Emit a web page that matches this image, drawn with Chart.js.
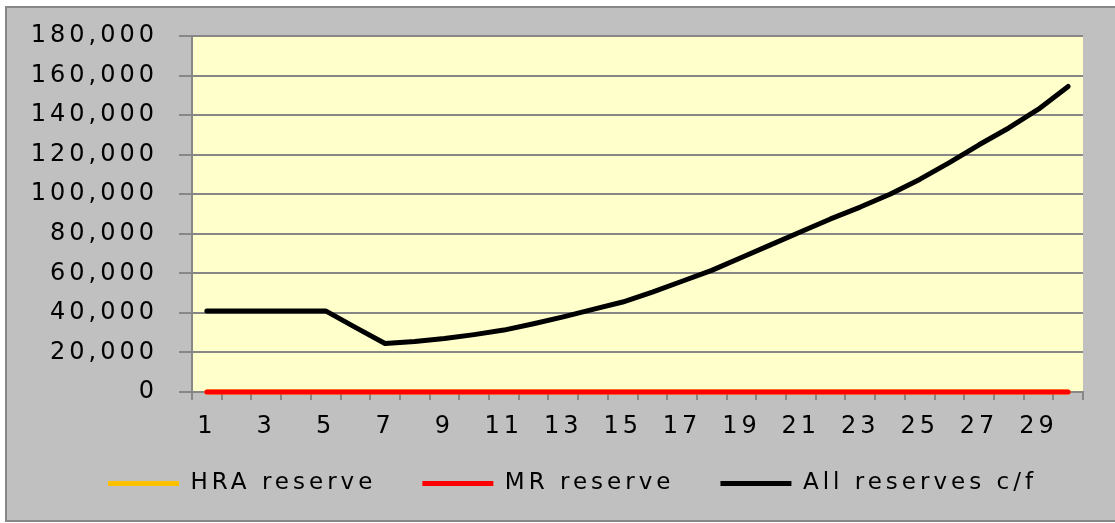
<!DOCTYPE html>
<html>
<head>
<meta charset="utf-8">
<script src="https://cdn.jsdelivr.net/npm/chart.js@4.4.1/dist/chart.umd.min.js"></script>
<style>
  html, body { margin: 0; padding: 0; background: #fff; overflow: hidden; }
  #frame { position: absolute; left: 5px; top: 6px; width: 1120px; height: 512px; border: 2px solid #878787; background: #c0c0c0; }
  #box { position: absolute; left: 0; top: 0; width: 1108px; height: 512px; }
</style>
</head>
<body>
<div id="frame"><div id="box"><canvas id="chart"></canvas></div></div>
<script>
// years 1..30 along the bottom
const years = ['1', '2', '3', '4', '5', '6', '7', '8', '9', '10',
  '11', '12', '13', '14', '15', '16', '17', '18', '19', '20',
  '21', '22', '23', '24', '25', '26', '27', '28', '29', '30'];

const hraReserve = [0, 0, 0, 0, 0, 0, 0, 0, 0, 0, 0, 0, 0, 0, 0, 0, 0, 0, 0, 0, 0, 0, 0, 0, 0, 0, 0, 0, 0, 0];
const mrReserve = [0, 0, 0, 0, 0, 0, 0, 0, 0, 0, 0, 0, 0, 0, 0, 0, 0, 0, 0, 0, 0, 0, 0, 0, 0, 0, 0, 0, 0, 0];
const allReserves = [41000, 41000, 41000, 41000, 41000, 32700, 24500, 25500, 27000, 29000,
  31300, 34500, 38000, 41800, 45500, 50500, 56000, 61500, 68000, 74500,
  81000, 87500, 93500, 100000, 107500, 116000, 125000, 133500, 143000, 154500];

const yMin = 0;
const yMax = 180000;
const yStep = 20000;

const tickFont = { family: 'DejaVu Sans', size: 24 };
const legendFont = { family: 'DejaVu Sans', size: 23 };
const gridGrey = '#878787';

// pale yellow plot area
const plotBg = {
  id: 'plotBg',
  beforeDraw(chart) {
    const { ctx, chartArea: a } = chart;
    ctx.save();
    ctx.fillStyle = '#ffffcc';
    ctx.fillRect(a.left, a.top, a.right - a.left, a.bottom - a.top);
    ctx.restore();
  }
};

// the original text is drawn wide, a little letter spacing gets close
const textSpacing = {
  id: 'textSpacing',
  beforeUpdate(chart) { chart.ctx.letterSpacing = '4px'; },
  beforeDraw(chart) { chart.ctx.letterSpacing = '4px'; }
};

// legend padding is wide to spread the items, so pull the row back up
const legendLift = {
  id: 'legendLift',
  afterLayout(chart) {
    chart.legend.top -= 16;
    chart.legend.bottom -= 16;
  }
};

function lineSet(label, data, color, order) {
  return {
    label, data, order,
    borderColor: color,
    backgroundColor: color,
    borderWidth: 5,
    borderCapStyle: 'round',
    borderJoinStyle: 'round',
    pointRadius: 0,
    tension: 0,
    clip: 8
  };
}

new Chart(document.getElementById('chart'), {
  type: 'line',
  data: {
    labels: years,
    datasets: [
      lineSet('HRA reserve', hraReserve, '#ffc000', 3),
      lineSet('MR reserve', mrReserve, '#ff0000', 2),
      lineSet('All reserves c/f', allReserves, '#000000', 1)
    ]
  },
  options: {
    responsive: true,
    maintainAspectRatio: false,
    animation: false,
    devicePixelRatio: 1,
    layout: { autoPadding: false, padding: { top: 28, right: 32, bottom: 0, left: 0 } },
    plugins: {
      tooltip: { enabled: false },
      legend: {
        position: 'bottom',
        align: 'end',
        maxHeight: 78,
        labels: {
          usePointStyle: true,
          pointStyle: 'line',
          pointStyleWidth: 71,
          padding: 46,
          color: '#000',
          font: legendFont,
          sort: (a, b) => a.datasetIndex - b.datasetIndex
        }
      }
    },
    scales: {
      x: {
        offset: true,
        grid: { offset: true, drawOnChartArea: false, color: gridGrey, lineWidth: 2, tickLength: 8 },
        border: { color: gridGrey, width: 2 },
        ticks: {
          autoSkip: false,
          maxRotation: 0,
          padding: 12,
          color: '#000',
          font: tickFont,
          callback: (v, i) => (i % 2 === 0 ? years[i] : '')
        },
        afterFit: s => { s.height = 50; }
      },
      y: {
        min: yMin,
        max: yMax,
        grid: { color: gridGrey, lineWidth: 2, tickLength: 13 },
        border: { color: gridGrey, width: 2 },
        ticks: {
          stepSize: yStep,
          padding: 21,
          color: '#000',
          font: tickFont,
          callback: v => v.toLocaleString('en-US')
        },
        afterFit: s => {
          s.width = 185;
          s.paddingTop = 0;
          s.paddingBottom = 0;
        }
      }
    }
  },
  plugins: [textSpacing, plotBg, legendLift]
});
</script>
</body>
</html>
